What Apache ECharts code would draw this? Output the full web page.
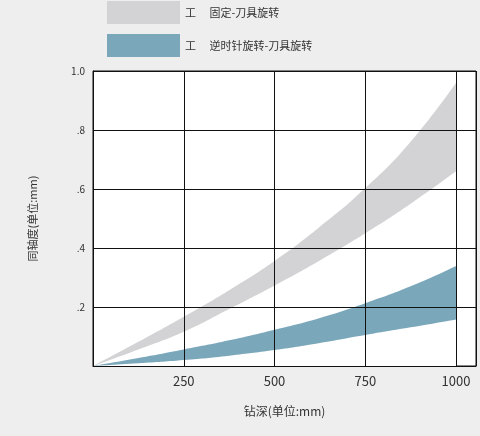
<!DOCTYPE html>
<html>
<head>
<meta charset="utf-8">
<script src="https://cdn.jsdelivr.net/npm/echarts@6/dist/echarts.min.js"></script>
<style>
html,body{margin:0;padding:0;background:#eeeeee;}
#c{width:480px;height:436px;}
</style>
</head>
<body>
<div id="c"></div>
<script>
// Drilling depth (mm)
const depth = [0, 125, 250, 375, 500, 625, 750, 875, 1000];
// Fixed - tool rotating band (concentricity, mm)
const fixedLow  = [0, 0.056, 0.116, 0.193, 0.273, 0.358, 0.45, 0.55, 0.66];
const fixedHigh = [0, 0.082, 0.167, 0.257, 0.356, 0.472, 0.603, 0.76, 0.96];
// Counter-rotating - tool rotating band
const ccwLow  = [0, 0.009, 0.020, 0.035, 0.054, 0.078, 0.105, 0.131, 0.158];
const ccwHigh = [0, 0.027, 0.056, 0.087, 0.123, 0.163, 0.213, 0.27, 0.339];
const xTicks = [250, 500, 750, 1000];
const yTicks = [0.2, 0.4, 0.6, 0.8, 1.0];
const names = ['工\u3000 固定-刀具旋转', '工\u3000 逆时针旋转-刀具旋转'];

const pairs = (ys) => depth.map((x, i) => [x, ys[i]]);

const font = '"Noto Sans CJK SC", "Noto Sans", sans-serif';
const GRAY = '#d3d3d5', BLUE = '#7ba7bb', WHITE = '#ffffff';

function band(name, data, color, z) {
  return {
    name, type: 'line', data, smooth: true, symbol: 'none', color,
    lineStyle: { width: 0, opacity: 0 },
    areaStyle: { color, opacity: 1, origin: 'start' },
    itemStyle: { color }, silent: true, z
  };
}

const chart = echarts.init(document.getElementById('c'));
chart.setOption({
  backgroundColor: '#eeeeee',
  animation: false,
  textStyle: { fontFamily: font, color: '#333' },
  legend: {
    data: names,
    orient: 'vertical',
    left: 107, top: 1, padding: 0,
    itemWidth: 73, itemHeight: 23, itemGap: 10,
    icon: 'rect',
    textStyle: { fontSize: 11, color: '#333', fontFamily: font }
  },
  grid: { left: 93, top: 71, right: 4, bottom: 70, show: true, backgroundColor: '#ffffff', borderColor: '#111', borderWidth: 1 },
  xAxis: {
    type: 'value', min: 0, max: 1055, interval: 250, z: 10,
    name: '钻深(单位:mm)', nameLocation: 'middle', nameGap: 39,
    nameTextStyle: { fontSize: 12, color: '#333', fontFamily: font },
    axisLine: { show: true, lineStyle: { color: '#111' } },
    axisTick: { show: false },
    axisLabel: { fontSize: 13, color: '#333', margin: 9,
      formatter: v => xTicks.includes(v) ? String(v) : '' },
    splitLine: { show: true, lineStyle: { color: '#111', width: 1 } }
  },
  yAxis: {
    type: 'value', min: 0, max: 1, interval: 0.2, z: 10,
    name: '同轴度(单位:mm)', nameLocation: 'middle', nameGap: 55,
    nameTextStyle: { fontSize: 11, color: '#333', fontFamily: font },
    axisLine: { show: true, lineStyle: { color: '#111' } },
    axisTick: { show: false },
    axisLabel: { fontSize: 10, color: '#333', margin: 8,
      formatter: v => {
        const t = yTicks.find(y => Math.abs(y - v) < 1e-6);
        if (t === undefined) return '';
        return t >= 1 ? t.toFixed(1) : t.toFixed(1).replace(/^0/, '');
      } },
    splitLine: { show: true, lineStyle: { color: '#111', width: 1 } }
  },
  series: [
    band(names[0], pairs(fixedHigh), GRAY, 1),
    band('fixedLowMask', pairs(fixedLow), WHITE, 2),
    band(names[1], pairs(ccwHigh), BLUE, 3),
    band('ccwLowMask', pairs(ccwLow), WHITE, 4)
  ]
});
</script>
</body>
</html>
